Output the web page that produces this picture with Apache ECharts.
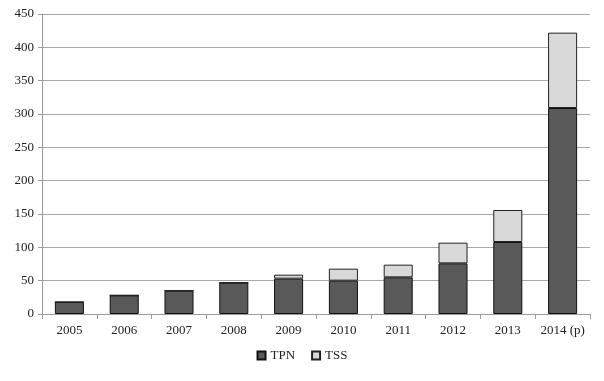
<!DOCTYPE html>
<html><head><meta charset="utf-8">
<script src="https://cdn.jsdelivr.net/npm/echarts@6/dist/echarts.min.js"></script>
<style>html,body{margin:0;padding:0;background:#fff}#c{width:604px;height:381px}</style>
</head><body><div id="c"></div>
<script>
var categories = ['2005','2006','2007','2008','2009','2010','2011','2012','2013','2014 (p)'];
var tpn = [18, 28, 35, 47, 53, 50, 55, 76, 108, 309];
var tss = [0, 0, 0, 0, 6, 18, 19, 31, 48, 113];
var font = '"Liberation Serif", "DejaVu Serif", serif';
var chart = echarts.init(document.getElementById('c'));
chart.setOption({
  animation: false,
  textStyle: {fontFamily: font},
  grid: {left: 42, right: 14, top: 14, bottom: 67},
  legend: {
    bottom: 14, left: 'center', itemWidth: 8, itemHeight: 8, itemGap: 16,
    icon: 'rect',
    textStyle: {fontFamily: font, fontSize: 13, color: '#222'},
    data: ['TPN', 'TSS']
  },
  xAxis: {
    type: 'category', data: categories,
    axisLine: {lineStyle: {color: '#9a9a9a'}},
    axisTick: {show: true, alignWithLabel: false, length: 5, interval: 0, lineStyle: {color: '#9a9a9a'}},
    axisLabel: {fontFamily: font, fontSize: 13, color: '#222', margin: 10, interval: 0}
  },
  yAxis: {
    type: 'value', min: 0, max: 450, interval: 50,
    axisLine: {show: true, lineStyle: {color: '#9a9a9a'}},
    axisTick: {show: true, length: 4, lineStyle: {color: '#9a9a9a'}},
    splitLine: {lineStyle: {color: '#a8a8a8'}},
    axisLabel: {fontFamily: font, fontSize: 13, color: '#222', margin: 8}
  },
  series: [
    {name: 'TPN', type: 'bar', stack: 's', data: tpn, barWidth: '53%',
     itemStyle: {color: '#595959', borderColor: '#111', borderWidth: 1}},
    {name: 'TSS', type: 'bar', stack: 's', data: tss, barWidth: '53%',
     itemStyle: {color: '#d9d9d9', borderColor: '#222', borderWidth: 1}}
  ]
});
</script></body></html>
